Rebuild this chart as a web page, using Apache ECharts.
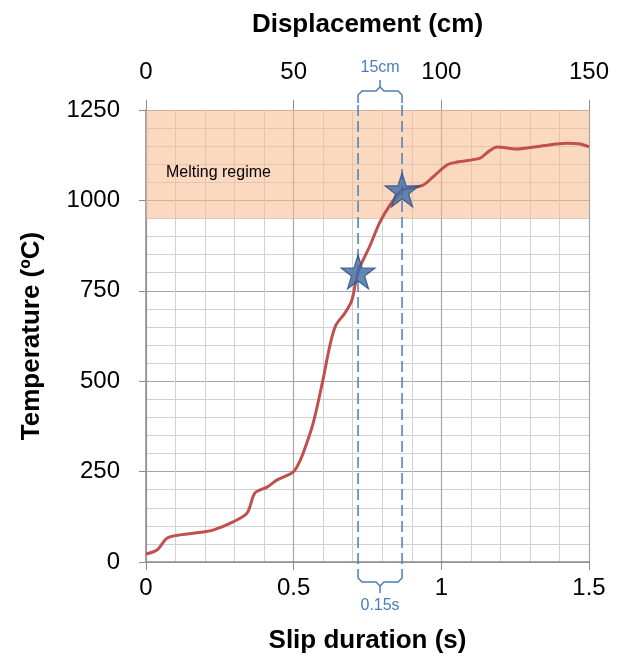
<!DOCTYPE html>
<html>
<head>
<meta charset="utf-8">
<script src="https://cdn.jsdelivr.net/npm/echarts@6/dist/echarts.min.js"></script>
<style>
  html, body { margin: 0; padding: 0; background: #fff; }
  #chart { width: 617px; height: 659px; }
</style>
</head>
<body>
<div id="chart"></div>
<script>
// slip duration (s) vs temperature (C)
var slipTimes = [0, 0.037, 0.071, 0.115, 0.193, 0.227, 0.295, 0.342, 0.369, 0.41, 0.444, 0.494, 0.511,
  0.532, 0.566, 0.599, 0.623, 0.643, 0.674, 0.697, 0.718, 0.759, 0.792, 0.826, 0.867, 0.894, 0.938,
  0.972, 1.019, 1.053, 1.131, 1.158, 1.189, 1.256, 1.334, 1.426, 1.47, 1.5]
var temps = [22, 33, 66, 75, 83, 88, 111, 135, 191, 207, 227, 246, 263,
  301, 384, 503, 600, 655, 689, 724, 802, 876, 940, 987, 1029, 1034, 1042,
  1065, 1098, 1106, 1117, 1134, 1148, 1142, 1150, 1158, 1156, 1148]

var markerTimes = [0.718, 0.867]
var markerTemps = [802, 1029]

var meltRange = [950, 1250]
var bracketLabels = ['15cm', '0.15s']

var timeTicks = [0, 0.5, 1, 1.5]
var displacementTicks = [0, 50, 100, 150]

var FONT = '"Liberation Sans", Arial, sans-serif'
var BLUE = '#4A7EBB'
var STAR = 'path://M50,0 L61.8,35.4 L99,35.4 L69,57.3 L80.4,92.7 L50,70.8 L19.6,92.7 L31,57.3 L1,35.4 L38.2,35.4 Z'

var curve = slipTimes.map(function (t, i) { return [t, temps[i]] })
var stars = markerTimes.map(function (t, i) { return [t, markerTemps[i]] })

var myChart = echarts.init(document.getElementById('chart'))

function renderBrackets (params, api) {
  var a = api.coord([markerTimes[0], 1250])
  var b = api.coord([markerTimes[1], 1250])
  var bot = api.coord([markerTimes[0], 0])[1]
  var top = a[1]
  var x1 = a[0], x2 = b[0], xc = (x1 + x2) / 2
  var lineStyle = { stroke: BLUE, lineWidth: 1.5, fill: null }
  var dashStyle = { stroke: BLUE, lineWidth: 1.5, lineDash: [11, 5], fill: null }
  var kids = [
    { type: 'line', shape: { x1: x1, y1: top - 5, x2: x1, y2: bot + 8 }, style: dashStyle },
    { type: 'line', shape: { x1: x2, y1: top - 5, x2: x2, y2: bot + 8 }, style: dashStyle },
    // top brace
    { type: 'polyline', shape: { points: [[x1, top - 7], [x1, top - 15], [x1 + 4, top - 19], [xc - 4, top - 19], [xc, top - 23], [xc, top - 30]] }, style: lineStyle },
    { type: 'polyline', shape: { points: [[xc, top - 23], [xc + 4, top - 19], [x2 - 4, top - 19], [x2, top - 15], [x2, top - 7]] }, style: lineStyle },
    // bottom brace
    { type: 'polyline', shape: { points: [[x1, bot + 8], [x1, bot + 16], [x1 + 4, bot + 20], [xc - 4, bot + 20], [xc, bot + 24], [xc, bot + 31]] }, style: lineStyle },
    { type: 'polyline', shape: { points: [[xc, bot + 24], [xc + 4, bot + 20], [x2 - 4, bot + 20], [x2, bot + 16], [x2, bot + 8]] }, style: lineStyle },
    { type: 'text', x: xc, y: top - 42, style: { text: bracketLabels[0], fill: BLUE, font: '16px ' + FONT, align: 'center', verticalAlign: 'middle' } },
    { type: 'text', x: xc, y: bot + 44, style: { text: bracketLabels[1], fill: BLUE, font: '16px ' + FONT, align: 'center', verticalAlign: 'middle' } }
  ]
  return { type: 'group', children: kids }
}

myChart.setOption({
  animation: false,
  backgroundColor: '#fff',
  textStyle: { fontFamily: FONT },
  grid: { left: 146, right: 28, top: 110, bottom: 97 },
  xAxis: [
    {
      type: 'value',
      position: 'bottom',
      min: 0,
      max: 1.5,
      interval: 0.5,
      name: 'Slip duration (s)',
      nameLocation: 'middle',
      nameGap: 66,
      nameTextStyle: { fontSize: 26, fontWeight: 'bold', color: '#000' },
      axisLine: { show: true, lineStyle: { color: '#8c8c8c', width: 1.5 } },
      axisTick: { show: true, length: 8, lineStyle: { color: '#8c8c8c' } },
      axisLabel: {
        fontSize: 24, color: '#000', margin: 14,
        formatter: function (v) { return timeTicks.indexOf(v) >= 0 ? String(v) : '' }
      },
      splitLine: { show: true, lineStyle: { color: '#a6a6a6', width: 1.2 } },
      minorTick: { show: false, splitNumber: 5 },
      minorSplitLine: { show: true, lineStyle: { color: '#d0d0d0', width: 1 } }
    },
    {
      type: 'value',
      position: 'top',
      min: 0,
      max: 150,
      interval: 50,
      name: 'Displacement (cm)',
      nameLocation: 'middle',
      nameGap: 72,
      nameTextStyle: { fontSize: 26, fontWeight: 'bold', color: '#000' },
      axisLine: { show: false },
      axisTick: { show: true, length: 10, lineStyle: { color: '#8c8c8c' } },
      axisLabel: {
        fontSize: 24, color: '#000', margin: 26,
        formatter: function (v) { return displacementTicks.indexOf(v) >= 0 ? String(v) : '' }
      },
      splitLine: { show: false }
    }
  ],
  yAxis: {
    type: 'value',
    min: 0,
    max: 1250,
    interval: 250,
    name: 'Temperature (ºC)',
    nameLocation: 'middle',
    nameGap: 101,
    nameRotate: 90,
    nameTextStyle: { fontSize: 26, fontWeight: 'bold', color: '#000' },
    axisLine: { show: true, lineStyle: { color: '#8c8c8c', width: 1.5 } },
    axisTick: { show: true, length: 7, lineStyle: { color: '#8c8c8c' } },
    axisLabel: { fontSize: 24, color: '#000', margin: 26, formatter: function (v) { return String(v) } },
    splitLine: { show: true, lineStyle: { color: '#a6a6a6', width: 1.2 } },
    minorTick: { show: false, splitNumber: 5 },
    minorSplitLine: { show: true, lineStyle: { color: '#d0d0d0', width: 1 } }
  },
  series: [
    {
      type: 'line',
      data: curve,
      smooth: 0.3,
      symbol: 'none',
      lineStyle: { color: '#C0504D', width: 3 },
      z: 3,
      markArea: {
        silent: true,
        itemStyle: { color: 'rgba(247,186,140,0.55)' },
        label: {
          show: true,
          position: 'insideLeft',
          distance: 20,
          offset: [0, 8],
          color: '#000',
          fontSize: 16,
          fontFamily: FONT
        },
        data: [[{ yAxis: meltRange[0], name: 'Melting regime' }, { yAxis: meltRange[1] }]]
      }
    },
    {
      type: 'custom',
      data: [[markerTimes[0], markerTimes[1]]],
      renderItem: renderBrackets,
      clip: false,
      silent: true,
      z: 4
    },
    {
      type: 'scatter',
      data: stars,
      symbol: STAR,
      symbolSize: 34,
      itemStyle: { color: '#3F69A6', borderColor: '#2B4C7E', borderWidth: 1.2 },
      z: 5
    }
  ]
})
</script>
</body>
</html>
